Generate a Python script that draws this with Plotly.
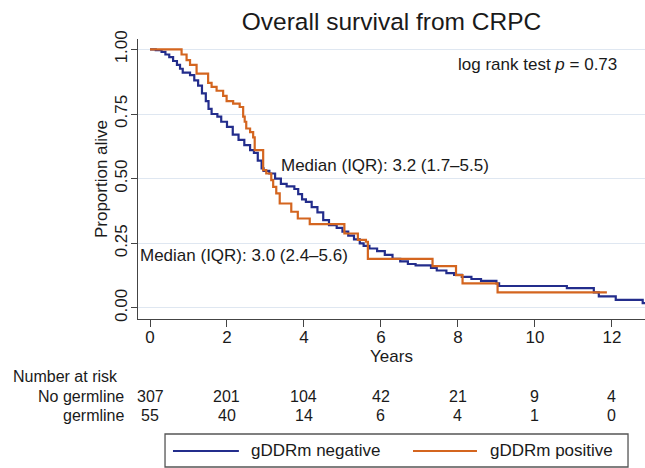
import plotly.graph_objects as go

# ---- data ----
neg_time = [0, 0.15, 0.3, 0.4, 0.5, 0.6, 0.7, 0.78, 0.85, 1.04, 1.15, 1.25, 1.35, 1.45, 1.52, 1.6,
            1.75, 1.85, 2.0, 2.15, 2.3, 2.45, 2.6, 2.7, 2.8, 2.9, 2.95, 3.1, 3.25, 3.4, 3.55, 3.75,
            3.85, 3.95, 4.05, 4.2, 4.35, 4.5, 4.65, 4.85, 5.0, 5.15, 5.3, 5.45, 5.55, 5.7, 5.9,
            6.1, 6.3, 6.5, 6.7, 6.9, 7.3, 7.45, 7.7, 7.9, 8.1, 8.35, 8.6, 9.0, 9.07, 10.83,
            11.53, 11.66, 12.1, 12.8, 12.9]
neg_surv = [1.0, 0.997, 0.99, 0.98, 0.97, 0.955, 0.94, 0.925, 0.91, 0.90, 0.88, 0.86, 0.83, 0.80,
            0.77, 0.75, 0.74, 0.72, 0.70, 0.67, 0.65, 0.63, 0.61, 0.60, 0.57, 0.54, 0.53, 0.52,
            0.50, 0.48, 0.47, 0.46, 0.44, 0.42, 0.41, 0.39, 0.37, 0.34, 0.32, 0.31, 0.295, 0.28,
            0.265, 0.25, 0.24, 0.23, 0.22, 0.205, 0.19, 0.18, 0.17, 0.165, 0.155, 0.145, 0.135,
            0.128, 0.12, 0.112, 0.105, 0.095, 0.085, 0.077, 0.06, 0.045, 0.031, 0.019, 0.019]

pos_time = [0, 0.82, 0.95, 1.04, 1.21, 1.51, 1.6, 1.73, 1.9, 1.99, 2.16, 2.33, 2.42, 2.46, 2.5,
            2.6, 2.68, 2.72, 2.94, 3.02, 3.15, 3.2, 3.28, 3.37, 3.67, 3.84, 4.15, 5.05, 5.4,
            5.61, 5.66, 7.34, 7.95, 8.12, 9.03, 11.87]
pos_surv = [1.0, 0.98, 0.958, 0.94, 0.906, 0.87, 0.855, 0.84, 0.82, 0.80, 0.79, 0.777, 0.74, 0.72,
            0.694, 0.68, 0.66, 0.61, 0.533, 0.52, 0.494, 0.468, 0.443, 0.404, 0.372, 0.346, 0.324,
            0.288, 0.263, 0.256, 0.19, 0.162, 0.127, 0.095, 0.06, 0.06]

risk_times = [0, 2, 4, 6, 8, 10, 12]
risk_no_germline = [307, 201, 104, 42, 21, 9, 4]
risk_germline = [55, 40, 14, 6, 4, 1, 0]

x_ticks = [0, 2, 4, 6, 8, 10, 12]
y_ticks = [0, 0.25, 0.5, 0.75, 1.0]
y_ticktext = ["0.00", "0.25", "0.50", "0.75", "1.00"]

series_names = ["gDDRm negative", "gDDRm positive"]
BLUE = "#232d8c"
ORANGE = "#d4651f"
FONT = "Liberation Sans, Arial, sans-serif"
TXT = "#1a1a1a"

fig = go.Figure()
fig.add_trace(go.Scatter(x=neg_time, y=neg_surv, mode="lines", line_shape="hv",
                         line=dict(color=BLUE, width=2.2), name=series_names[0], showlegend=False))
fig.add_trace(go.Scatter(x=pos_time, y=pos_surv, mode="lines", line_shape="hv",
                         line=dict(color=ORANGE, width=2.2), name=series_names[1], showlegend=False))

ann = []
ann.append(dict(x=12.18, y=0.94, xref="x", yref="y", xanchor="right", yanchor="middle",
                text="log rank test <i>p</i> = 0.73", showarrow=False, font=dict(size=17)))
ann.append(dict(x=3.34, y=0.55, xref="x", yref="y", xanchor="left", yanchor="middle",
                text="Median (IQR): 3.2 (1.7–5.5)", showarrow=False, font=dict(size=17)))
ann.append(dict(x=-0.30, y=0.203, xref="x", yref="y", xanchor="left", yanchor="middle",
                text="Median (IQR): 3.0 (2.4–5.6)", showarrow=False, font=dict(size=17)))

# number at risk table (rows at ~376, 396, 416 px)
ROW0, ROW1, ROW2 = -0.2036, -0.275, -0.3464
TSZ = 16
ann.append(dict(x=-0.25, y=ROW0, xref="paper", yref="paper", xanchor="left", yanchor="middle",
                text="Number at risk", showarrow=False, font=dict(size=TSZ)))
ann.append(dict(x=-0.024, y=ROW1, xref="paper", yref="paper", xanchor="right", yanchor="middle",
                text="No germline", showarrow=False, font=dict(size=TSZ)))
ann.append(dict(x=-0.024, y=ROW2, xref="paper", yref="paper", xanchor="right", yanchor="middle",
                text="germline", showarrow=False, font=dict(size=TSZ)))
for t, a, b in zip(risk_times, risk_no_germline, risk_germline):
    ann.append(dict(x=t, y=ROW1, xref="x", yref="paper", xanchor="center", yanchor="middle",
                    text=str(a), showarrow=False, font=dict(size=TSZ)))
    ann.append(dict(x=t, y=ROW2, xref="x", yref="paper", xanchor="center", yanchor="middle",
                    text=str(b), showarrow=False, font=dict(size=TSZ)))

# manual legend
ann.append(dict(x=0.219, y=-0.4714, xref="paper", yref="paper", xanchor="left", yanchor="middle",
                text=series_names[0], showarrow=False, font=dict(size=17)))
ann.append(dict(x=0.690, y=-0.4714, xref="paper", yref="paper", xanchor="left", yanchor="middle",
                text=series_names[1], showarrow=False, font=dict(size=17)))
shapes = [
    dict(type="rect", xref="paper", yref="paper", x0=0.0533, x1=0.9665, y0=-0.5286, y1=-0.4107,
         line=dict(color="#555555", width=1.3), fillcolor="rgba(0,0,0,0)"),
    dict(type="line", xref="paper", yref="paper", x0=0.069, x1=0.199, y0=-0.4714, y1=-0.4714,
         line=dict(color=BLUE, width=2)),
    dict(type="line", xref="paper", yref="paper", x0=0.5424, x1=0.6686, y0=-0.4714, y1=-0.4714,
         line=dict(color=ORANGE, width=2)),
]

fig.update_layout(
    width=645, height=468, autosize=False,
    margin=dict(l=138, r=0, t=39, b=149),
    paper_bgcolor="white", plot_bgcolor="white",
    font=dict(family=FONT, size=17, color=TXT),
    title=dict(text="Overall survival from CRPC", x=0.5, xref="paper", y=0.955, yref="container",
               xanchor="center", yanchor="middle", font=dict(size=24.5, color=TXT)),
    xaxis=dict(range=[-0.312, 12.86], tickmode="array", tickvals=x_ticks, ticks="outside",
               ticklen=7, tickcolor="#444", tickwidth=1.3, showline=True, linecolor="#444",
               linewidth=1.3, showgrid=False, zeroline=False, ticklabelstandoff=-5,
               title=dict(text="Years", standoff=2, font=dict(size=17)), tickfont=dict(size=17)),
    yaxis=dict(range=[-0.0426, 1.04], tickmode="array", tickvals=y_ticks, ticktext=y_ticktext,
               tickangle=-90, ticks="outside", ticklen=6, tickcolor="#444", tickwidth=1.3,
               showline=True, linecolor="#444", linewidth=1.3, showgrid=True,
               gridcolor="#dfe7f1", gridwidth=1, zeroline=False, ticklabelstandoff=-3,
               title=dict(text="Proportion alive", standoff=0, font=dict(size=17)),
               tickfont=dict(size=17)),
    annotations=ann, shapes=shapes,
)

fig.write_html("out.html", config={"displayModeBar": False},
               post_script="document.body.style.margin='0';document.body.style.padding='0';")
